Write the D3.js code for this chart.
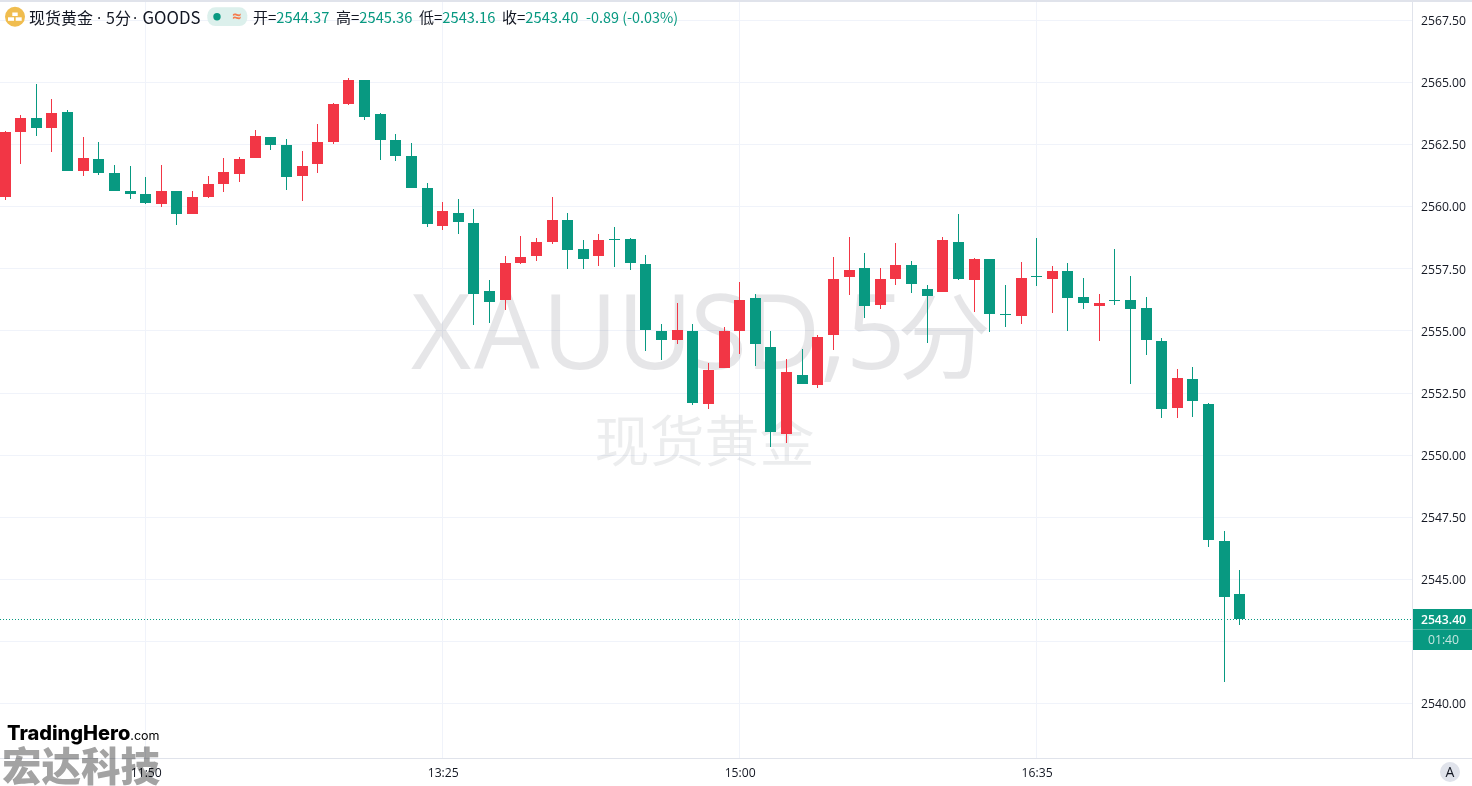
<!DOCTYPE html>
<html><head><meta charset="utf-8">
<script src="https://cdn.jsdelivr.net/npm/d3@7"></script>
<style>html,body{margin:0;padding:0;background:#fff;overflow:hidden}svg{display:block}</style>
</head><body><svg id="c" width="1472" height="786"></svg>
<script>
const opens=[2560.37,2562.99,2563.55,2563.15,2563.79,2561.42,2561.90,2561.34,2560.61,2560.49,2560.09,2560.61,2559.69,2560.37,2560.89,2561.30,2561.94,2562.79,2562.46,2561.22,2561.70,2562.58,2564.11,2565.08,2563.71,2562.67,2562.02,2560.73,2559.20,2559.73,2559.32,2556.59,2556.22,2557.71,2557.99,2558.56,2559.44,2558.28,2557.99,2558.68,2558.68,2557.67,2554.98,2554.61,2554.98,2552.04,2553.49,2554.98,2556.30,2554.33,2550.83,2553.20,2552.80,2554.81,2557.15,2557.51,2556.02,2557.07,2557.63,2556.67,2556.55,2558.56,2557.03,2557.87,2555.66,2555.58,2557.19,2557.07,2557.39,2556.34,2555.98,2556.22,2556.22,2555.90,2554.57,2551.88,2553.04,2552.04,2546.52,2544.37];
const highs=[2563.03,2563.67,2564.92,2564.32,2563.87,2562.79,2562.58,2561.66,2561.62,2561.18,2561.66,2560.61,2560.61,2561.22,2561.94,2561.98,2563.07,2562.79,2562.71,2562.22,2563.31,2564.15,2565.16,2565.08,2563.75,2562.91,2562.54,2560.93,2560.17,2560.29,2559.89,2557.03,2557.99,2558.80,2558.72,2560.37,2559.73,2558.64,2558.88,2559.16,2558.72,2558.04,2555.26,2556.10,2555.26,2553.69,2555.14,2556.95,2556.46,2554.98,2553.85,2554.25,2554.81,2557.95,2558.76,2558.12,2557.51,2558.52,2557.79,2556.83,2558.76,2559.69,2557.91,2557.87,2556.83,2557.75,2558.72,2557.59,2557.71,2557.11,2556.46,2558.28,2557.19,2556.34,2554.69,2553.45,2553.53,2552.08,2546.92,2545.36];
const lows=[2560.25,2561.70,2562.83,2562.18,2561.42,2561.22,2561.26,2560.61,2560.29,2560.09,2559.97,2559.24,2559.69,2560.33,2560.57,2560.97,2561.94,2562.26,2560.65,2560.21,2561.34,2562.50,2564.07,2563.47,2561.86,2561.82,2560.73,2559.16,2559.04,2558.88,2555.22,2555.30,2555.82,2557.67,2557.79,2558.48,2557.47,2557.47,2557.59,2557.55,2557.43,2554.17,2553.81,2554.45,2552.00,2551.84,2553.49,2554.05,2553.57,2550.31,2550.47,2552.84,2552.68,2554.21,2556.42,2555.50,2555.86,2556.83,2556.51,2554.49,2556.55,2557.03,2555.74,2554.93,2555.14,2555.26,2556.79,2555.70,2554.98,2555.86,2554.57,2556.02,2552.84,2554.01,2551.47,2551.47,2551.51,2546.28,2540.84,2543.16];
const closes=[2562.99,2563.55,2563.15,2563.75,2561.42,2561.94,2561.34,2560.61,2560.49,2560.13,2560.61,2559.69,2560.37,2560.89,2561.38,2561.90,2562.83,2562.46,2561.18,2561.62,2562.58,2564.11,2565.08,2563.59,2562.67,2562.02,2560.73,2559.28,2559.81,2559.36,2556.46,2556.14,2557.71,2557.95,2558.56,2559.44,2558.24,2557.87,2558.64,2558.64,2557.71,2555.02,2554.61,2555.02,2552.08,2553.41,2554.98,2556.22,2554.45,2550.91,2553.32,2552.84,2554.73,2557.07,2557.43,2555.98,2557.07,2557.63,2556.87,2556.38,2558.64,2557.07,2557.87,2555.66,2555.62,2557.11,2557.15,2557.39,2556.30,2556.10,2556.10,2556.18,2555.86,2554.61,2551.84,2553.08,2552.16,2546.56,2544.27,2543.40];
const priceTicks=[2567.5,2565,2562.5,2560,2557.5,2555,2552.5,2550,2547.5,2545,2542.5,2540];
const priceLabels=[2567.5,2565,2562.5,2560,2557.5,2555,2552.5,2550,2547.5,2545,2540];
const timeIndex=[9,28,47,66];
const timeLabels=["11:50","13:25","15:00","16:35"];
const legendParts=[["开","=","2544.37"],["高","=","2545.36"],["低","=","2543.16"],["收","=","2543.40"]];
const lastPrice=2543.40;

const UI='"Noto Sans CJK SC","Noto Sans",sans-serif';
const NUM='"Open Sans","Noto Sans",sans-serif';
const UP='#f23645',DOWN='#089981',GRID='#f0f3fa',BORDER='#e0e3eb';
const svg=d3.select('#c');
const x=d3.scaleLinear().domain([0,79]).range([5.05,1239.82]);
const y=d3.scaleLinear().domain([2565,2540]).range([82,703]);
const plotR=1412,plotB=758;

svg.append('rect').attr('width',1472).attr('height',2).attr('fill',BORDER);
const grid=svg.append('g').attr('shape-rendering','crispEdges');
grid.selectAll('.h').data(priceTicks).join('line').attr('x1',0).attr('x2',plotR)
 .attr('y1',d=>Math.round(y(d))+.5).attr('y2',d=>Math.round(y(d))+.5).attr('stroke',GRID);
grid.selectAll('.v').data(timeIndex).join('line').attr('y1',2).attr('y2',plotB)
 .attr('x1',d=>Math.floor(x(d))+.5).attr('x2',d=>Math.floor(x(d))+.5).attr('stroke',GRID);

const wm=svg.append('text').attr('y',368.5)
 .attr('font-family','"Open Sans","Noto Sans CJK SC",sans-serif').attr('font-weight',400).attr('font-size',104).attr('fill','rgba(19,23,34,.105)');
wm.append('tspan').text('XAUUSD,5').attr('x','411 474 542 617 690 745 820 846');
wm.append('tspan').text('分').attr('x',897).attr('dy',3).attr('font-size',94).attr('font-family','"Noto Sans CJK SC"');
svg.append('text').text('现货黄金').attr('x',704.5).attr('y',460.5).attr('text-anchor','middle')
 .attr('font-family','"Noto Sans CJK SC"').attr('font-weight',400).attr('font-size',55).attr('fill','rgba(19,23,34,.08)');

const idx=d3.range(closes.length);
const col=i=>closes[i]>opens[i]?UP:DOWN;
const cg=svg.append('g').attr('shape-rendering','crispEdges');
cg.selectAll('.w').data(idx).join('rect').attr('x',i=>Math.floor(x(i))).attr('width',1)
 .attr('y',i=>Math.round(y(highs[i]))).attr('height',i=>Math.round(y(lows[i]))-Math.round(y(highs[i]))).attr('fill',col);
cg.selectAll('.b').data(idx).join('rect').attr('x',i=>Math.floor(x(i))-5).attr('width',11)
 .attr('y',i=>Math.round(y(Math.max(opens[i],closes[i]))))
 .attr('height',i=>Math.max(1,Math.round(y(Math.min(opens[i],closes[i])))-Math.round(y(Math.max(opens[i],closes[i])))))
 .attr('fill',col);

const ly=Math.round(y(lastPrice))+.5;
svg.append('line').attr('x1',0).attr('x2',plotR).attr('y1',ly).attr('y2',ly)
 .attr('stroke',DOWN).attr('stroke-dasharray','1 2').attr('shape-rendering','crispEdges');

svg.append('line').attr('x1',plotR+.5).attr('x2',plotR+.5).attr('y1',2).attr('y2',plotB).attr('stroke',BORDER).attr('shape-rendering','crispEdges');
svg.append('line').attr('x1',0).attr('x2',1472).attr('y1',plotB+.5).attr('y2',plotB+.5).attr('stroke',BORDER).attr('shape-rendering','crispEdges');

const ay=d3.axisRight(y).tickValues(priceLabels).tickSize(0).tickPadding(0).tickFormat(d3.format('.2f'));
const gy=svg.append('g').attr('transform','translate(1421,0.8)').call(ay);
gy.select('.domain').remove();
gy.selectAll('text').attr('font-family',NUM).attr('font-size',12.2).attr('fill','#131722');
const ax=d3.axisBottom(x).tickValues(timeIndex).tickSize(0).tickPadding(0).tickFormat((d,i)=>timeLabels[i]);
const gx=svg.append('g').attr('transform','translate(0,768)').call(ax);
gx.select('.domain').remove();
gx.selectAll('text').attr('font-family',NUM).attr('font-size',12.2).attr('fill','#131722');

svg.append('rect').attr('x',1413).attr('y',609).attr('width',59).attr('height',41).attr('fill',DOWN);
svg.append('rect').attr('x',1413).attr('y',629).attr('width',59).attr('height',1).attr('fill','#ffffff').attr('opacity',.25);
svg.append('text').text(d3.format('.2f')(lastPrice)).attr('x',1443.5).attr('y',624).attr('text-anchor','middle').attr('fill','#fff').attr('font-family',NUM).attr('font-weight',600).attr('font-size',12.2);
svg.append('text').text('01:40').attr('x',1443.5).attr('y',644).attr('text-anchor','middle').attr('fill','#c4e6e0').attr('font-family',NUM).attr('font-size',12.2);

svg.append('circle').attr('cx',1450).attr('cy',772).attr('r',10).attr('fill','#e0e3eb');
svg.append('text').text('A').attr('x',1450).attr('y',777).attr('text-anchor','middle').attr('fill','#131722').attr('font-family',NUM).attr('font-size',14);

// header
svg.append('circle').attr('cx',15).attr('cy',16.7).attr('r',10).attr('fill','#f0bd4f');
svg.append('rect').attr('x',12.3).attr('y',12.5).attr('width',5.4).attr('height',3.5).attr('fill','#fff');
svg.append('rect').attr('x',8).attr('y',17.3).attr('width',6).attr('height',3.5).attr('fill','#fff');
svg.append('rect').attr('x',15.7).attr('y',17.3).attr('width',6).attr('height',3.5).attr('fill','#fff');
const titleParts=[['现货黄金',29,UI,16],['·',97,NUM,16],['5分',106,UI,16],['·',133,NUM,16],['GOODS',142.5,UI,16.8]];
titleParts.forEach(p=>svg.append('text').text(p[0]).attr('x',p[1]).attr('y',23.5).attr('font-family',p[2]).attr('font-size',p[3]).attr('fill','#131722'));
svg.append('rect').attr('x',207.3).attr('y',7.3).attr('width',40).attr('height',18.7).attr('rx',8).attr('fill','#dcf0ec');
svg.append('circle').attr('cx',217).attr('cy',16.7).attr('r',3.7).attr('fill',DOWN);
svg.append('text').text('≈').attr('x',236.7).attr('y',21.5).attr('text-anchor','middle').attr('fill','#f57c4e').attr('font-family',NUM).attr('font-size',16).attr('font-weight',700);
const lx=[253,336,419,502];
legendParts.forEach((p,i)=>{
 const t=svg.append('text').attr('x',lx[i]).attr('y',23).attr('font-family',UI).attr('font-size',14.7);
 t.append('tspan').text(p[0]+p[1]).attr('fill','#131722').attr('font-size',15);
 t.append('tspan').text(p[2]).attr('fill',DOWN);
});
svg.append('text').text('-0.89 (-0.03%)').attr('x',586).attr('y',23).attr('font-family',UI).attr('font-size',14.4).attr('fill',DOWN);

// brand overlay
const br=svg.append('text').attr('x',7).attr('y',740).attr('font-family','Inter,"Noto Sans",sans-serif').attr('fill','#000');
br.append('tspan').text('TradingHero').attr('font-size',20).attr('font-weight',800);
br.append('tspan').text('.com').attr('font-size',12.5);
svg.append('text').text('宏达科技').attr('x',2).attr('y',781).attr('font-family','"Noto Sans CJK SC"').attr('font-weight',900).attr('font-size',39.5).attr('fill','#a3a3a3').style('mix-blend-mode','multiply');
</script></body></html>
